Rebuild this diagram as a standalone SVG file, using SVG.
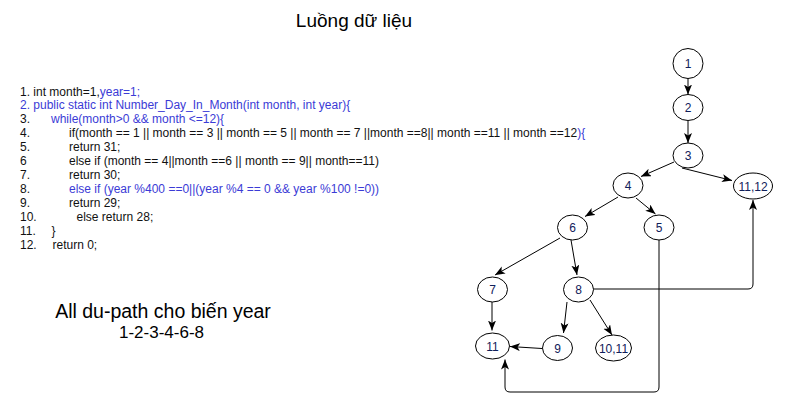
<svg xmlns="http://www.w3.org/2000/svg" width="790" height="417" viewBox="0 0 790 417">
<defs>
<marker id="arr" markerUnits="userSpaceOnUse" markerWidth="12" markerHeight="10" refX="10" refY="4" orient="auto">
<path d="M0,0 L10,4 L0,8 L2.5,4 z" fill="#000"/>
</marker>
<style>
.t{font-family:"Liberation Sans",Arial,sans-serif;}
.code{font-family:"Liberation Sans",Arial,sans-serif;font-size:12px;fill:#111;}
.b{fill:#3b3bd6;}
.node ellipse{fill:#fff;stroke:#000;stroke-width:1;}
.node text{font-family:"Liberation Sans",Arial,sans-serif;font-size:12px;fill:#10205a;text-anchor:middle;}
.edges path{fill:none;stroke:#000;stroke-width:1;marker-end:url(#arr);}
</style>
</defs>
<rect width="790" height="417" fill="#fff"/>
<text class="t" x="354" y="27" font-size="19" text-anchor="middle" fill="#000">Luồng dữ liệu</text>

<g id="code">
<text class="code" x="20" y="95.5">1. int month=1,<tspan class="b">year=1;</tspan></text>
<text class="code b" x="20" y="109.4">2. public static int Number_Day_In_Month(int month, int year){</text>
<text class="code" x="20" y="123.4">3.</text><text class="code b" x="51" y="123.4">while(month&gt;0 &amp;&amp; month &lt;=12){</text>
<text class="code" x="20" y="137.3">4.</text><text class="code" x="69" y="137.3">if(month == 1 || month == 3 || month == 5 || month == 7 ||month ==8|| month ==11 || month ==12<tspan class="b">){</tspan></text>
<text class="code" x="20" y="151.3">5.</text><text class="code" x="69" y="151.3">return 31;</text>
<text class="code" x="20" y="165.2">6</text><text class="code" x="69" y="165.2">else if (month == 4||month ==6 || month == 9|| month==11)</text>
<text class="code" x="20" y="179.1">7.</text><text class="code" x="69" y="179.1">return 30;</text>
<text class="code" x="20" y="193.1">8.</text><text class="code b" x="69" y="193.1">else if (year %400 ==0||(year %4 == 0 &amp;&amp; year %100 !=0))</text>
<text class="code" x="20" y="207.0">9.</text><text class="code" x="69" y="207.0">return 29;</text>
<text class="code" x="20" y="221.0">10.</text><text class="code" x="76.5" y="221.0">else return 28;</text>
<text class="code" x="20" y="234.9">11.</text><text class="code" x="51.5" y="234.9">}</text>
<text class="code" x="20" y="248.8">12.</text><text class="code" x="52.5" y="248.8">return 0;</text>
</g>

<text class="t" x="163" y="318" font-size="19.5" text-anchor="middle" fill="#000">All du-path cho biến year</text>
<text class="t" x="161.5" y="337.5" font-size="17" text-anchor="middle" fill="#000">1-2-3-4-6-8</text>

<g class="edges" id="connectors">
<path d="M688,78 L688,94.5"/>
<path d="M688,121 L688,143"/>
<path d="M674,162 L641,176.5"/>
<path d="M682,168 L732,180.5"/>
<path d="M618,197 L585,216.5"/>
<path d="M636,198 L655.5,214"/>
<path d="M560,238 L495,275"/>
<path d="M571,240 L577,275"/>
<path d="M492,302 L492,330.5"/>
<path d="M567,302 L563.5,333"/>
<path d="M590,300 L612,335"/>
<path d="M542,348.5 L510,346.5"/>
<path d="M593,289 L748,289 Q753,289 753,284 L753,200"/>
<path d="M659,240 L659,387 Q659,392 654,392 L510,392 Q505,392 505,387 L505,359.5"/>
</g>

<g id="n1" class="node"><ellipse cx="688" cy="63.5" rx="15" ry="15"/><text x="688" y="68">1</text></g>
<g id="n2" class="node"><ellipse cx="688" cy="107.5" rx="15" ry="13"/><text x="688" y="112">2</text></g>
<g id="n3" class="node"><ellipse cx="688" cy="155.5" rx="15" ry="12.5"/><text x="688" y="160">3</text></g>
<g id="n4" class="node"><ellipse cx="628" cy="185.5" rx="15" ry="12.5"/><text x="628" y="190">4</text></g>
<g id="n1112" class="node"><ellipse cx="753" cy="186" rx="19.5" ry="13"/><text x="753" y="190.5">11,12</text></g>
<g id="n6" class="node"><ellipse cx="572.5" cy="227.5" rx="15" ry="12.5"/><text x="572.5" y="232">6</text></g>
<g id="n5" class="node"><ellipse cx="659" cy="227.5" rx="15" ry="12.5"/><text x="659" y="232">5</text></g>
<g id="n7" class="node"><ellipse cx="492.5" cy="289.5" rx="15" ry="12.5"/><text x="492.5" y="294">7</text></g>
<g id="n8" class="node"><ellipse cx="578.5" cy="289.5" rx="15" ry="12.5"/><text x="578.5" y="294">8</text></g>
<g id="n11" class="node"><ellipse cx="492.5" cy="346" rx="17" ry="13"/><text x="492.5" y="350.5">11</text></g>
<g id="n9" class="node"><ellipse cx="557.5" cy="348" rx="15" ry="12.5"/><text x="557.5" y="352.5">9</text></g>
<g id="n1011" class="node"><ellipse cx="613.5" cy="348" rx="18" ry="13"/><text x="613.5" y="352.5">10,11</text></g>
</svg>
